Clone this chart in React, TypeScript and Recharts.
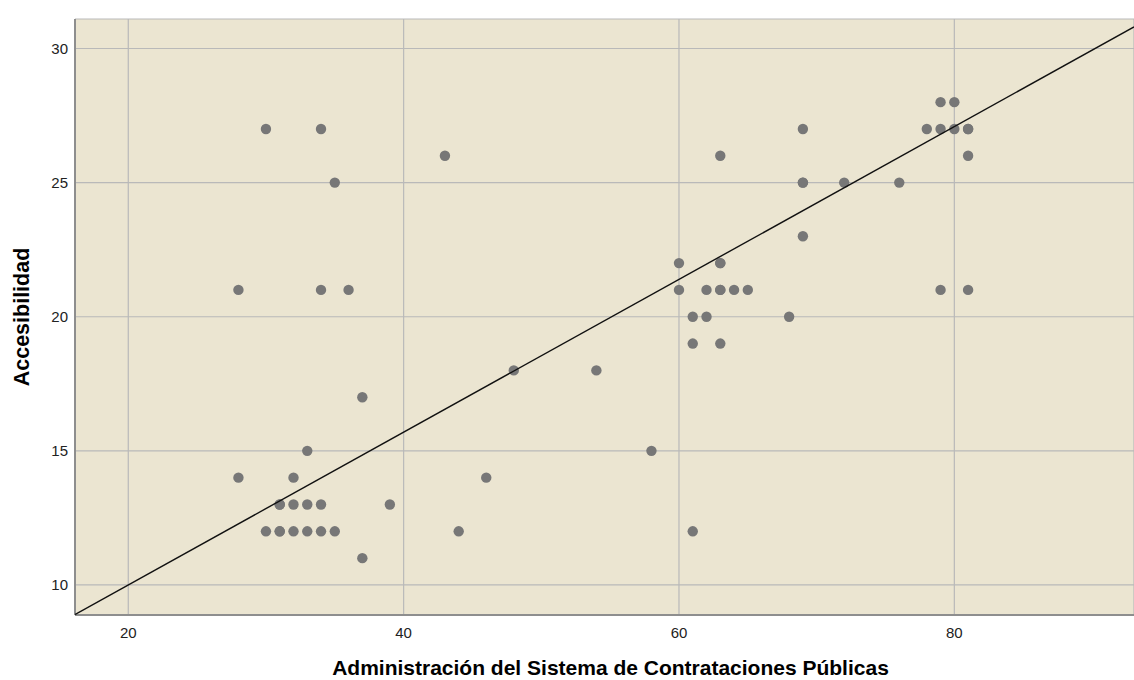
import { ScatterChart, Scatter, XAxis, YAxis, CartesianGrid, Label } from 'recharts';

// Administración del Sistema de Contrataciones Públicas (x) vs Accesibilidad (y)
const adminScores = [
  30, 34, 35, 28, 34, 36, 37, 33, 28, 32,
  31, 31, 32, 33, 34, 39, 30, 31, 31, 32,
  33, 34, 35, 37, 43, 44, 46, 48, 54, 58,
  61, 60, 63, 63, 63, 60, 62, 63, 63, 64,
  65, 61, 62, 68, 61, 63, 69, 69, 69, 69,
  72, 76, 78, 79, 80, 81, 81, 79, 80, 81,
  79, 81,
];
const accessScores = [
  27, 27, 25, 21, 21, 21, 17, 15, 14, 14,
  13, 13, 13, 13, 13, 13, 12, 12, 12, 12,
  12, 12, 12, 11, 26, 12, 14, 18, 18, 15,
  12, 22, 22, 22, 26, 21, 21, 21, 21, 21,
  21, 20, 20, 20, 19, 19, 27, 25, 25, 23,
  25, 25, 27, 27, 27, 27, 27, 28, 28, 26,
  21, 21,
];

const xTicks = [20, 40, 60, 80];
const yTicks = [10, 15, 20, 25, 30];
const xDomain = [16.13, 93.05];
const yDomain = [8.88, 31.1];

// fitted line (total)
const fitIntercept = 4.304;
const fitSlope = 0.2848;

const points = adminScores.map((x, i) => ({ x, y: accessScores[i] }));
const fitLine = xDomain.map((x) => ({ x, y: fitIntercept + fitSlope * x }));

const FONT = '"Liberation Sans", Arial, sans-serif';

const Dot = (props: any) => <circle cx={props.cx} cy={props.cy} r={5.2} fill="#777777" />;
const NoDot = () => <g />;

export default function App() {
  return (
    <div style={{ position: 'absolute', left: 0, top: 0, width: 1134, height: 680, background: '#fff' }}>
      <ScatterChart width={1134} height={680} margin={{ top: 19, right: 0, bottom: 0, left: 0 }}>
        <CartesianGrid fill="#ebe5d1" stroke="#b9b9b9" strokeWidth={1.2} />
        <XAxis
          type="number"
          dataKey="x"
          domain={xDomain}
          ticks={xTicks}
          allowDataOverflow
          height={65}
          tickSize={0}
          tickMargin={12}
          axisLine={{ stroke: '#8e8e8e', strokeWidth: 2 }}
          tickLine={false}
          tick={{ fontSize: 15, fill: '#222', fontFamily: FONT }}
        >
          <Label
            content={({ viewBox }: any) => (
              <text
                x={viewBox.x + viewBox.width / 2 + 6}
                y={viewBox.y + 60}
                textAnchor="middle"
                fontSize={21}
                fontWeight="bold"
                fontFamily={FONT}
                fill="#000"
              >
                Administración del Sistema de Contrataciones Públicas
              </text>
            )}
          />
        </XAxis>
        <YAxis
          type="number"
          dataKey="y"
          domain={yDomain}
          ticks={yTicks}
          allowDataOverflow
          width={75}
          tickSize={0}
          tickMargin={7}
          axisLine={{ stroke: '#8e8e8e', strokeWidth: 2 }}
          tickLine={false}
          tick={{ fontSize: 15, fill: '#222', fontFamily: FONT }}
        >
          <Label
            content={({ viewBox }: any) => {
              const cx = viewBox.x + 28.5;
              const cy = viewBox.y + viewBox.height / 2;
              return (
                <text
                  x={cx}
                  y={cy}
                  transform={`rotate(-90, ${cx}, ${cy})`}
                  textAnchor="middle"
                  fontSize={21.5}
                  fontWeight="bold"
                  fontFamily={FONT}
                  fill="#000"
                >
                  Accesibilidad
                </text>
              );
            }}
          />
        </YAxis>
        <Scatter data={points} shape={Dot} isAnimationActive={false} />
        <Scatter
          data={fitLine}
          line={{ stroke: '#111', strokeWidth: 1.4 }}
          shape={NoDot}
          isAnimationActive={false}
        />
      </ScatterChart>
    </div>
  );
}
